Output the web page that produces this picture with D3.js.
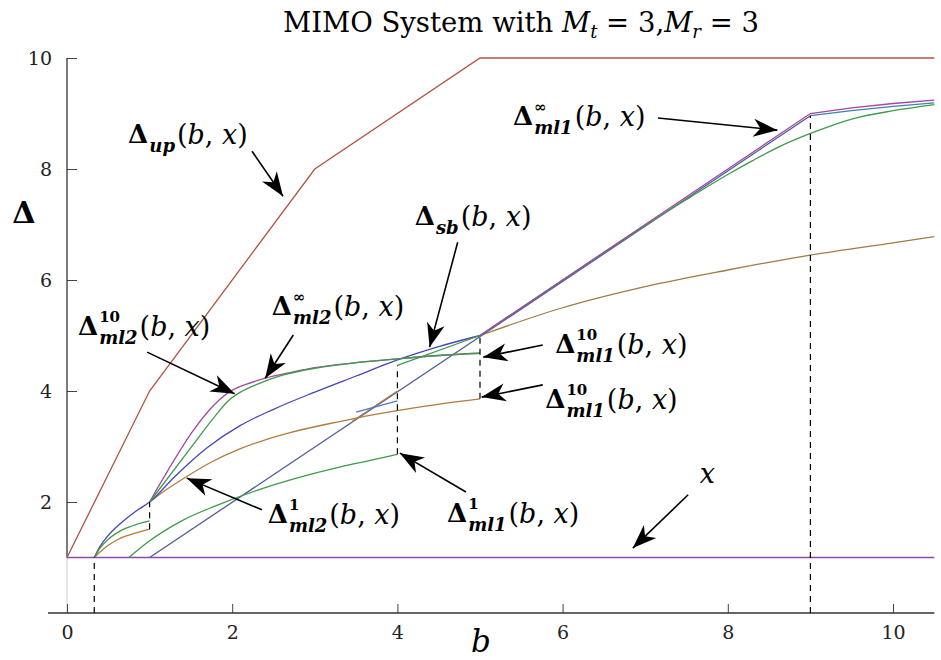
<!DOCTYPE html>
<html>
<head>
<meta charset="utf-8">
<script src="https://cdn.jsdelivr.net/npm/d3@7"></script>
<style>
body { margin: 0; background: #fff; }
svg text { font-family: "DejaVu Serif", serif; fill: #000; }
svg .tick text { font-family: "DejaVu Serif", serif; font-size: 19px; fill: #222; }
svg text.math { font-family: "DejaVu Serif", serif; font-size: 27px; }
.delta { font-weight: bold; font-size: 26px; }
.sup { font-weight: bold; font-size: 15px; }
.sub { font-weight: bold; font-style: italic; font-size: 18px; }
.it { font-style: italic; }
</style>
</head>
<body>
<script>
// curves, [b, delta]
const upperBound = [[0,1],[1,4],[3,8],[5,10],[10.5,10]];
const xLine = [[0,1],[10.5,1]];
const sbCurve = [[0.33,1],[0.4,1.2],[0.5,1.4],[0.6,1.55],[0.7,1.68],[0.85,1.85],[1,2],[1.3,2.45],[1.7,2.98],[2.1,3.38],[2.5,3.67],[3,3.98],[3.5,4.27],[4,4.56],[4.5,4.8],[5,5]];
const ml2TenLow = [[0.33,1],[0.4,1.17],[0.5,1.33],[0.6,1.44],[0.7,1.52],[0.85,1.6],[1,1.66]];
const ml2Ten = [[1,2],[1.5,2.98],[1.8,3.56],[1.95,3.82],[2.1,3.98],[2.3,4.12],[2.6,4.28],[3,4.41],[3.5,4.51],[4,4.58],[4.5,4.64],[5,4.68]];
const ml2Inf = [[1,2],[2.02,4.03],[2.15,4.11],[2.4,4.23],[2.7,4.33],[3,4.42],[3.5,4.51],[4,4.58],[4.5,4.64],[5,4.68]];
const ml1TenLow = [[0.33,1],[0.4,1.1],[0.5,1.22],[0.6,1.31],[0.7,1.38],[0.85,1.45],[1,1.51]];
const ml1Ten = [[1,2],[1.2,2.22],[1.45,2.46],[1.75,2.72],[2.1,2.96],[2.4,3.12],[2.7,3.25],[3.3,3.45],[3.7,3.57],[4.3,3.72],[5,3.86]];
const ml1One = [[0.75,1],[1,1.3],[1.4,1.67],[1.8,1.93],[2.3,2.21],[2.8,2.44],[3.3,2.63],[3.7,2.76],[4,2.86]];
const ml1OneUp = [[4,4.46],[5,5]];
const ml1Diag = [[5,5],[6,6],[7,6.98],[7.5,7.45],[8,7.9],[8.3,8.15],[8.65,8.42],[9,8.64],[9.5,8.9],[10,9.05],[10.5,9.16]];
const diagLine = [[1,1],[9,8.96]];
const diagTail = [[9,8.96],[9.5,9.05],[10,9.13],[10.5,9.19]];
const ml1Inf = [[5,5],[9,9],[9.5,9.1],[10,9.18],[10.5,9.24]];
const commonTail = [[5,5],[6,5.5],[7,5.88],[8,6.18],[9,6.45],[10,6.67],[10.5,6.78]];
const brownDiag = [[3.45,3.45],[4,4]];
const blueBit = [[3.5,3.62],[4,3.82]];
// jumps: [b, from, to]
const jumps = [[0.33,0,1],[1,1.51,2],[4,2.86,4.46],[5,3.86,5],[9,0,8.96]];

const xMajor = [0,2,4,6,8,10];
const yMajor = [2,4,6,8,10];

const W = 941, H = 660;
const x = d3.scaleLinear().domain([0,10]).range([67,893]);
const y = d3.scaleLinear().domain([0,10]).range([613,58]);

const svg = d3.select("body").append("svg").attr("width",W).attr("height",H);
svg.append("rect").attr("width",W).attr("height",H).attr("fill","#fff");

// arrow head
svg.append("defs").append("marker")
    .attr("id","head").attr("markerUnits","userSpaceOnUse")
    .attr("viewBox","-26 -11 28 22").attr("refX",0).attr("refY",0)
    .attr("markerWidth",28).attr("markerHeight",22).attr("orient","auto")
    .append("path").attr("d","M0,0 L-24,-9 L-17,0 L-24,9 Z").attr("fill","#000");

// axes
const xMinor = d3.range(0.5,10.6,0.5).filter(v => v%2!==0);
const yMinor = d3.range(1.5,10,0.5).filter(v => v%2!==0);

svg.append("line").attr("x1",x(0)).attr("x2",x(0)).attr("y1",y(1)).attr("y2",y(0))
    .attr("stroke","#ccc").attr("stroke-width",1);

const gx = svg.append("g").attr("transform","translate(0,"+y(0)+")");
gx.call(d3.axisBottom(x).tickValues(xMinor).tickSizeInner(-5).tickSizeOuter(0).tickFormat(""));
gx.call(d3.axisBottom(x).tickValues(xMajor).tickSizeInner(-9).tickSizeOuter(0).tickPadding(13));
gx.selectAll(".domain").remove();
gx.append("line").attr("x1",x(-0.23)).attr("x2",x(10.5)).attr("stroke","#333").attr("stroke-width",1.3);

const gy = svg.append("g").attr("transform","translate("+x(0)+",0)");
gy.call(d3.axisLeft(y).tickValues(yMinor).tickSizeInner(-6).tickSizeOuter(0).tickFormat(""));
gy.call(d3.axisLeft(y).tickValues(yMajor).tickSizeInner(-10).tickSizeOuter(0).tickPadding(15));
gy.selectAll(".domain").remove();
gy.append("line").attr("y1",y(1)).attr("y2",y(10)).attr("stroke","#333").attr("stroke-width",1.3);
svg.selectAll(".tick line").attr("stroke","#444");
gx.attr("font-family",null).attr("font-size",null);
gy.attr("font-family",null).attr("font-size",null);

// curves
const smooth = d3.line().x(d => x(d[0])).y(d => y(d[1])).curve(d3.curveMonotoneX);
const straight = d3.line().x(d => x(d[0])).y(d => y(d[1]));
const plot = svg.append("g").attr("fill","none").attr("stroke-width",1.3);
function draw(data, color, gen) {
    plot.append("path").attr("d",(gen||smooth)(data)).attr("stroke",color);
}
draw(xLine,"#8e4aa8",straight);
draw(upperBound,"#b05440",straight);
draw(commonTail,"#a07c45");
draw(diagLine,"#4d5c9c",straight);
draw(diagTail,"#3f80b2",straight);
draw(brownDiag,"#b27b3f",straight);
draw(blueBit,"#4f78c4",straight);
draw(ml1TenLow,"#b27b3f");
draw(ml1Ten,"#b27b3f");
draw(sbCurve,"#4545b5");
draw(ml1One,"#3f9b4a");
draw(ml1OneUp,"#3f9b4a",straight);
draw(ml1Diag,"#3f9b4a");
draw(ml1Inf,"#a3479f",straight);
draw(ml2Inf,"#a3479f");
draw(ml2TenLow,"#3f9b4a");
draw(ml2Ten,"#3f9b4a");

plot.selectAll(".jump").data(jumps).enter().append("line")
    .attr("x1",d => x(d[0])).attr("x2",d => x(d[0]))
    .attr("y1",d => y(d[1])).attr("y2",d => y(d[2]))
    .attr("stroke","#000").attr("stroke-width",1.2).attr("stroke-dasharray","6,5");

// annotations: label corner, arrow tail and tip in data units
const notes = [
    {sup:"", sub:"up", at:[0.74,8.47], from:[2.24,8.32], to:[2.615,7.51]},
    {sup:"\u221e", sub:"ml1", at:[5.40,8.79], from:[7.155,8.92], to:[8.60,8.70]},
    {sup:"", sub:"sb", at:[4.21,6.99], from:[4.73,6.68], to:[4.39,4.79]},
    {sup:"\u221e", sub:"ml2", at:[2.48,5.37], from:[2.74,5.01], to:[2.40,4.23]},
    {sup:"10", sub:"ml2", at:[0.133,5.01], from:[0.97,4.70], to:[2.03,3.95]},
    {sup:"10", sub:"ml1", at:[5.91,4.68], from:[5.76,4.83], to:[5.04,4.61]},
    {sup:"10", sub:"ml1", at:[5.79,3.69], from:[5.76,4.11], to:[5.02,3.89]},
    {sup:"1", sub:"ml2", at:[2.43,1.62], from:[2.36,1.86], to:[1.45,2.43]},
    {sup:"1", sub:"ml1", at:[4.60,1.64], from:[4.83,2.18], to:[4.03,2.88]}
];
const ann = svg.append("g");
notes.forEach(n => {
    ann.append("line")
        .attr("x1",x(n.from[0])).attr("y1",y(n.from[1]))
        .attr("x2",x(n.to[0])).attr("y2",y(n.to[1]))
        .attr("stroke","#000").attr("stroke-width",1.6).attr("marker-end","url(#head)");
    const px = x(n.at[0]), py = y(n.at[1]);
    const t = ann.append("text").attr("class","math").attr("x",px).attr("y",py);
    const dl = t.append("tspan").attr("class","delta").text("\u0394");
    const w = dl.node().getComputedTextLength();
    let w2 = 0;
    if (n.sup) {
        const s = t.append("tspan").attr("class","sup").attr("x",px+w+1).attr("y",py-13).text(n.sup);
        w2 = Math.max(w2, s.node().getComputedTextLength());
    }
    const s2 = t.append("tspan").attr("class","sub").attr("x",px+w+1).attr("y",py+9).text(n.sub);
    w2 = Math.max(w2, s2.node().getComputedTextLength());
    t.append("tspan").attr("x",px+w+w2+3).attr("y",py+1).text("(");
    t.append("tspan").attr("class","it").text("b");
    t.append("tspan").text(", ");
    t.append("tspan").attr("class","it").text("x");
    t.append("tspan").text(")");
});
// the x marker
ann.append("line")
    .attr("x1",x(7.52)).attr("y1",y(2.13)).attr("x2",x(6.85)).attr("y2",y(1.17))
    .attr("stroke","#000").attr("stroke-width",1.6).attr("marker-end","url(#head)");
ann.append("text").attr("class","math it")
    .attr("x",x(7.66)).attr("y",y(2.34)).text("x");

// title and axis names
const title = svg.append("text").attr("class","math").attr("x",521).attr("y",32)
    .attr("text-anchor","middle").style("font-size","27.5px");
title.append("tspan").text("MIMO System with ");
title.append("tspan").attr("class","it").text("M");
title.append("tspan").attr("class","it").style("font-size","18px").attr("dy",6).text("t");
title.append("tspan").attr("dy",-6).text(" = 3,");
title.append("tspan").attr("class","it").text("M");
title.append("tspan").attr("class","it").style("font-size","18px").attr("dy",6).text("r");
title.append("tspan").attr("dy",-6).text(" = 3");

svg.append("text").attr("class","math delta").style("font-size","30px")
    .attr("x",24).attr("y",223).attr("text-anchor","middle").text("\u0394");
svg.append("text").attr("class","math it").style("font-size","31px")
    .attr("x",481).attr("y",652).attr("text-anchor","middle").text("b");
</script>
</body>
</html>
